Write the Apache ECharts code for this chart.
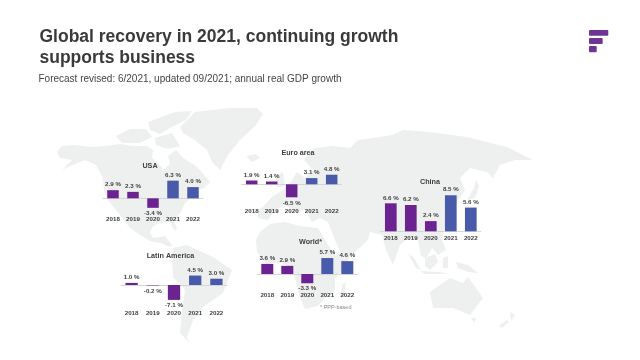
<!DOCTYPE html>
<html><head><meta charset="utf-8">
<style>html,body{margin:0;padding:0;background:#fff}#c{width:640px;height:360px}</style>
<script src="https://cdn.jsdelivr.net/npm/echarts@6/dist/echarts.min.js"></script>
</head><body><div id="c"></div>
<script>
const years = ['2018','2019','2020','2021','2022'];
const usa = [2.9,2.3,-3.4,6.3,4.0];
const euro = [1.9,1.4,-6.5,3.1,4.8];
const latam = [1.0,-0.2,-7.1,4.5,3.0];
const world = [3.6,2.9,-3.3,5.7,4.6];
const china = [6.6,6.2,2.4,8.5,5.6];

const panels = [
 {name:'USA',data:usa,left:103,width:100,base:198.3,scale:2.8,bar:11.5,bottom:212.5,tx:150,ty:166},
 {name:'Euro area',data:euro,left:241.7,width:100,base:184.3,scale:2,bar:11.5,bottom:205,tx:298,ty:153},
 {name:'Latin America',data:latam,left:121,width:106,base:285,scale:2.1,bar:12.3,bottom:307,tx:170.5,ty:256.5},
 {name:'World*',data:world,left:257.3,width:100,base:274,scale:2.8,bar:12,bottom:289,tx:310.5,ty:242.5},
 {name:'China',data:china,left:380.8,width:100,base:231.3,scale:4.24,bar:11.7,bottom:231.3,tx:430,ty:182}
];
const yMax=9;
const purple='#6a2391',blue='#4a5aaa',ink='#404040',land='#eeefef';

const landShapes=[
 [[57,152],[62,146],[75,145],[90,147],[105,146],[120,144],[133,146],[147,146],[153,150],[152,158],[160,165],[163,170],[170,164],[168,156],[176,150],[183,158],[193,164],[201,171],[210,182],[204,188],[197,190],[192,197],[185,203],[181,212],[174,220],[177,230],[174,230],[170,222],[160,223],[153,226],[150,232],[153,238],[160,237],[165,236],[172,245],[170,247],[160,243],[150,241],[140,235],[130,228],[120,215],[108,200],[104,190],[103,178],[96,165],[85,160],[72,165],[62,170],[72,160],[60,158]],
 [[116,136],[130,129],[146,129],[152,137],[140,143],[122,143]],
 [[148,122],[175,112],[192,111],[186,120],[170,128],[160,134],[150,130]],
 [[155,138],[172,133],[180,146],[168,149],[156,145]],
 [[180,127],[195,112],[230,108],[257,108],[263,114],[256,125],[240,140],[228,155],[220,170],[212,162],[207,150],[195,140],[183,133]],
 [[246,156],[256,154],[260,158],[252,162]],
 [[276,176],[283,172],[285,186],[277,188]],
 [[263,207],[272,197],[283,190],[290,183],[297,172],[305,178],[313,170],[304,160],[315,148],[332,146],[350,148],[358,140],[373,138],[392,135],[403,130],[430,132],[467,137],[507,147],[533,160],[515,160],[500,165],[493,178],[487,172],[470,168],[460,178],[465,190],[455,205],[450,215],[445,226],[442,240],[446,250],[438,255],[432,248],[426,258],[421,256],[418,240],[408,238],[400,245],[393,265],[386,250],[382,235],[370,232],[368,240],[355,252],[343,258],[335,240],[328,222],[320,218],[312,222],[305,210],[295,212],[285,205],[275,210],[268,220],[258,218],[258,210]],
 [[467,200],[474,188],[476,180],[479,186],[475,198]],
 [[260,232],[270,224],[285,222],[300,226],[318,228],[328,245],[335,255],[352,252],[345,268],[335,278],[335,290],[325,298],[318,306],[305,309],[300,298],[296,282],[292,268],[280,262],[266,264],[257,252],[256,240]],
 [[342,285],[346,282],[344,296],[340,298]],
 [[173,248],[187,245],[213,257],[232,270],[223,293],[203,307],[193,320],[187,337],[190,343],[180,333],[182,310],[185,290],[173,277],[172,260]],
 [[408,253],[414,258],[421,270],[416,268]],
 [[425,258],[435,254],[438,262],[430,270],[425,266]],
 [[420,271],[440,272],[448,274],[425,274]],
 [[443,258],[448,256],[448,268],[443,268]],
 [[456,262],[468,265],[478,273],[468,272],[458,268]],
 [[430,292],[450,278],[463,283],[468,277],[483,298],[470,315],[453,308],[433,308]],
 [[471,318],[476,318],[474,323]],
 [[510,312],[515,315],[511,321]],
 [[507,320],[509,322],[502,328],[499,326]]
];

const text=(t,x,y,size,weight,fill,align)=>({type:'text',x,y,silent:true,z:5,
  style:{text:t,font:weight+' '+size+'px "Liberation Sans"',fill,align:align||'left',verticalAlign:'middle'}});

const grid=[],xAxis=[],yAxis=[],series=[];
const graphic=landShapes.map(s=>({type:'polygon',silent:true,z:-1,shape:{points:s},style:{fill:land}}));
panels.forEach((p,i)=>{
  const top=p.base-yMax*p.scale;
  grid.push({left:p.left,width:p.width,top,height:p.bottom-top});
  xAxis.push({gridIndex:i,type:'category',data:years,
    axisLine:{onZero:true,lineStyle:{color:'#d4d5d6',width:1}},axisTick:{show:false},
    axisLabel:{margin:3.5,fontFamily:'Liberation Sans',fontSize:6.2,fontWeight:'bold',color:ink,interval:0}});
  yAxis.push({gridIndex:i,type:'value',min:-(p.bottom-p.base)/p.scale,max:yMax,show:false});
  series.push({type:'bar',xAxisIndex:i,yAxisIndex:i,barWidth:p.bar,data:p.data,
    itemStyle:{color:c=>c.dataIndex<3?purple:blue},
    label:{show:true,position:'outside',distance:2.5,fontFamily:'Liberation Sans',fontSize:6.2,fontWeight:'bold',color:ink,
      formatter:c=>c.value.toFixed(1)+' %'}});
  graphic.push(text(p.name,p.tx,p.ty,7.2,'bold',ink,'center'));
});

graphic.push(text('Global recovery in 2021, continuing growth',39.5,37,17.5,'bold','#3a3a3c'));
graphic.push(text('supports business',39.5,58.5,17.5,'bold','#3a3a3c'));
graphic.push(text('Forecast revised: 6/2021, updated 09/2021; annual real GDP growth',38.5,79.5,10,'normal','#444'));
graphic.push(text('* PPP-based',320,307,5.5,'normal','#8a8a8a'));
[[589,30,19.3,5.7],[589,38,13.7,6],[589,46,7.7,6.3]].forEach(r=>graphic.push(
  {type:'rect',silent:true,shape:{x:r[0],y:r[1],width:r[2],height:r[3],r:1},style:{fill:'#6f3594'}}));

const chart=echarts.init(document.getElementById('c'),null,{renderer:'canvas'});
chart.setOption({animation:false,backgroundColor:'#fff',grid,xAxis,yAxis,series,graphic});
</script></body></html>
